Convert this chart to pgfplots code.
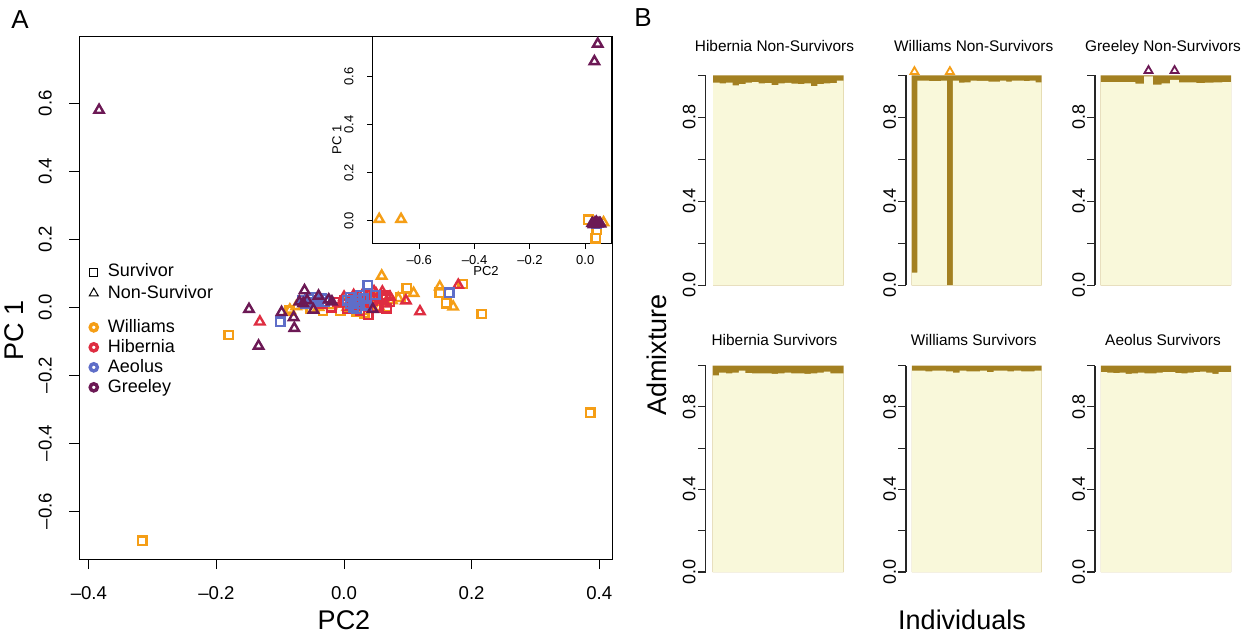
\documentclass[border=0pt]{standalone}
\usepackage{fontspec}
\setmainfont{Liberation Sans}
\usepackage{pgfplots}
\pgfplotsset{compat=1.18}

\definecolor{cOr}{RGB}{245,158,22}
\definecolor{cRe}{RGB}{222,45,65}
\definecolor{cBl}{RGB}{95,110,200}
\definecolor{cPu}{RGB}{108,25,85}
\definecolor{cGold}{RGB}{163,128,33}
\definecolor{cYel}{RGB}{249,248,218}

\newcommand{\fTick}{\fontsize{9.3}{11}\selectfont}
\newcommand{\fSmall}{\fontsize{6.5}{8}\selectfont}
\newcommand{\fBig}{\fontsize{13.5}{15}\selectfont}

\pgfplotsset{
  sq/.style={only marks, mark=square, mark size=2.1pt, mark options={draw=#1, line width=1.2pt, fill=none}},
  tri/.style={only marks, mark=triangle, mark size=2.7pt, mark options={draw=#1, line width=1.2pt, fill=none}},
  pcax/.style={anchor=south west, scale only axis, clip=false,
    axis line style={black, line width=0.5pt}, tick style={black, line width=0.5pt},
    tick align=outside, xtick pos=bottom, ytick pos=left},
  bax/.style={anchor=south west, scale only axis, clip=false,
    axis x line=none, axis y line*=left, ymin=0, ymax=1,
    ytick={0,0.2,0.4,0.6,0.8,1}, yticklabels={0.0,,0.4,,0.8,},
    tick align=outside, major tick length=3.8pt,
    axis line style={black!85, line width=0.6pt}, tick style={black!85, line width=0.6pt},
    yticklabel style={rotate=90, anchor=south, inner sep=1pt, font=\fontsize{9}{10}\selectfont},
    title style={at={(0.5,1)}, anchor=base, font=\fontsize{7.7}{9}\selectfont}},
  row1/.style={title style={yshift=5.8pt}},
  row2/.style={title style={yshift=4pt}},
  gbar/.style={ybar, bar width=1, bar shift=0pt, fill=cGold, draw=none},
  ybarc/.style={ybar, bar width=1, bar shift=0pt, fill=cYel, draw=none},
}

\begin{document}
\begin{tikzpicture}
\path[use as bounding box] (0,0) rectangle (623pt,318.5pt);

% ---------------- panel A: main PCA
\begin{axis}[pcax, at={(39.65pt,39pt)}, width=266.35pt, height=261pt,
  xmin=-0.415, xmax=0.42, ymin=-0.741, ymax=0.795,
  xtick={-0.4,-0.2,0,0.2,0.4}, xticklabels={--0.4,--0.2,0.0,0.2,0.4},
  ytick={-0.6,-0.4,-0.2,0,0.2,0.4,0.6}, yticklabels={--0.6,--0.4,--0.2,0.0,0.2,0.4,0.6},
  major tick length=5pt,
  xticklabel style={font=\fTick, anchor=north, inner sep=0pt, yshift=-8.5pt},
  yticklabel style={font=\fTick, rotate=90, anchor=south, inner xsep=0pt, inner ysep=8.5pt},
  legend style={draw=none, fill=none, at={(0.004,0.571)}, anchor=north west, inner sep=0pt,
    font=\fontsize{9}{10}\selectfont,
    nodes={inner xsep=1.5pt, inner ysep=0pt, text height=7.5pt, text depth=2.5pt}},
  legend cell align=left,
  legend image code/.code={\draw[mark repeat=2,mark phase=2,#1] plot coordinates {(0cm,0cm)(0.21cm,0cm)(0.42cm,0cm)};
    \path[draw=none, fill=none] (0.21cm,0cm) -- ++(5.6pt,0pt);},
]
\addlegendimage{only marks, mark=square, mark size=2pt, mark options={black, line width=0.5pt}}
\addlegendentry[text depth=3.5pt]{Survivor}
\addlegendimage{only marks, mark=triangle, mark size=2.6pt, mark options={black, line width=0.5pt}}
\addlegendentry{Non-Survivor}
\addlegendimage{empty legend}
\addlegendentry[text height=4.5pt, text depth=2.5pt]{}
\addlegendimage{only marks, mark=o, mark size=1.8pt, mark options={cOr, line width=1.7pt}}
\addlegendentry{Williams}
\addlegendimage{only marks, mark=o, mark size=1.8pt, mark options={cRe, line width=1.7pt}}
\addlegendentry{Hibernia}
\addlegendimage{only marks, mark=o, mark size=1.8pt, mark options={cBl, line width=1.7pt}}
\addlegendentry{Aeolus}
\addlegendimage{only marks, mark=o, mark size=1.8pt, mark options={cPu, line width=1.7pt}}
\addlegendentry{Greeley}

% Williams survivors
\addplot[sq=cOr] coordinates {(-0.316,-0.687) (0.386,-0.311) (-0.181,-0.082) (0.098,0.056) (0.150,0.043)
  (0.160,0.011) (0.186,0.068) (0.216,-0.020) (0.036,0.021) (0.041,0.006) (0.067,0.0) (-0.085,-0.01)
  (-0.033,-0.01) (-0.006,-0.01) (0.02,-0.012) (0.032,-0.018) (0.052,0.032) (0.088,0.03) (0.01,0.0) (-0.052,-0.003)};
% Williams non-survivors
\addplot[tri=cOr] coordinates {(0.059,0.092) (0.109,0.041) (0.085,0.026) (0.150,0.060) (0.171,0.001)
  (-0.085,-0.008) (0.005,0.0) (0.025,0.01) (-0.04,0.0) (0.03,-0.012) (0.048,0.015) (0.065,0.012)
  (-0.06,0.005) (0.015,0.02) (0.075,0.02) (-0.02,0.005) (0.04,0.03) (0.0,0.015) (0.055,0.0) (-0.075,0.002)};
% Hibernia survivors
\addplot[sq=cRe] coordinates {(0.038,-0.023) (0.067,-0.003) (0.01,0.01) (0.02,0.025) (0.03,0.005)
  (0.045,0.02) (0.06,0.03) (0.005,-0.005) (0.025,-0.01) (-0.01,0.015) (0.04,0.035) (0.072,0.015)
  (-0.02,0.0) (0.015,0.03) (0.05,0.0) (0.035,0.015) (-0.035,0.01) (0.065,0.035) (0.0,0.02)};
% Hibernia non-survivors
\addplot[tri=cRe] coordinates {(-0.132,-0.043) (0.047,0.046) (0.097,0.019) (0.119,-0.013) (0.179,0.065)
  (0.02,0.015) (0.035,0.03) (0.055,0.02) (0.01,0.0) (0.04,0.01) (0.065,0.01) (0.0,0.03) (0.025,0.0)
  (-0.005,0.01) (0.05,0.04) (0.072,0.03) (0.03,0.04) (0.015,0.035) (0.045,-0.005) (0.06,0.045)};
% Aeolus survivors
\addplot[sq=cBl] coordinates {(-0.100,-0.043) (0.037,0.065) (0.165,0.043) (0.049,0.036) (-0.065,0.02)
  (-0.055,0.025) (-0.045,0.015) (-0.035,0.025) (-0.05,0.03) (-0.06,0.01) (-0.04,0.02) (-0.03,0.015)
  (0.01,0.01) (0.02,0.02) (0.015,0.0) (0.025,0.01) (0.03,0.025) (0.005,0.02) (0.02,-0.005)
  (0.035,0.005) (0.01,0.03) (0.025,0.035)};
% Greeley non-survivors
\addplot[tri=cPu] coordinates {(-0.384,0.58) (-0.149,-0.006) (-0.134,-0.114) (-0.098,-0.015) (-0.079,-0.030)
  (-0.078,-0.062) (-0.062,0.049) (-0.040,0.033) (-0.048,-0.008) (-0.064,0.011) (-0.07,0.016)
  (-0.058,0.02) (-0.019,0.016) (-0.024,0.022) (0.045,-0.006)};
\end{axis}

% ---------------- panel A: inset
\begin{axis}[pcax, at={(186pt,196.5pt)}, width=119.5pt, height=104pt,
  xmin=-0.771, xmax=0.093, ymin=-0.096, ymax=0.769,
  axis background/.style={fill=white},
  xtick={-0.6,-0.4,-0.2,0}, xticklabels={--0.6,--0.4,--0.2,0.0},
  ytick={0,0.2,0.4,0.6}, yticklabels={0.0,0.2,0.4,0.6},
  major tick length=2.5pt,
  xticklabel style={font=\fSmall, anchor=north, inner sep=0pt, yshift=-3pt},
  yticklabel style={font=\fSmall, rotate=90, anchor=south, inner xsep=0pt, inner ysep=6.5pt},
]
\addplot[sq=cOr] coordinates {(0.011,0.005) (0.042,-0.037) (0.038,-0.072)};
\addplot[tri=cOr] coordinates {(-0.745,0.007) (-0.666,0.007) (0.066,-0.007)};
\addplot[sq=cBl] coordinates {(0.04,-0.012)};
\addplot[tri=cPu] coordinates {(0.045,0.736) (0.033,0.663) (0.025,-0.01) (0.035,-0.008) (0.045,-0.012)
  (0.03,-0.015) (0.04,-0.005) (0.05,-0.01) (0.055,-0.012)};
\end{axis}

\node[font=\fBig] at (172pt,8.5pt) {PC2};
\node[font=\fBig, rotate=90] at (7pt,153.5pt) {PC 1};
\node[font=\fSmall] at (243pt,183pt) {PC2};
\node[font=\fSmall, rotate=90] at (168.5pt,248.5pt) {PC 1};
\node[font=\fontsize{13}{15}\selectfont] at (10pt,308.5pt) {A};
\node[font=\fontsize{13}{15}\selectfont] at (321.5pt,309.5pt) {B};
\node[font=\fBig, rotate=90] at (328.5pt,141pt) {Admixture};
\node[font=\fBig] at (481pt,8.5pt) {Individuals};

% ---------------- panel B: admixture bars
\begin{axis}[bax, row1, at={(352.75pt,175.85pt)}, width=69pt, height=105pt, xmin=-0.65, xmax=20.5,
  title={Hibernia Non-Survivors}]
\addplot[gbar] coordinates {(1,1)(2,1)(3,1)(4,1)(5,1)(6,1)(7,1)(8,1)(9,1)(10,1)(11,1)(12,1)(13,1)(14,1)(15,1)(16,1)(17,1)(18,1)(19,1)(20,1)};
\addplot[ybarc] coordinates {(1,0.965)(2,0.962)(3,0.965)(4,0.952)(5,0.958)(6,0.965)(7,0.968)(8,0.962)(9,0.963)(10,0.953)
  (11,0.962)(12,0.964)(13,0.960)(14,0.958)(15,0.962)(16,0.948)(17,0.958)(18,0.962)(19,0.963)(20,0.975)};
\end{axis}

\begin{axis}[bax, row1, at={(453pt,175.85pt)}, width=67.75pt, height=105pt, xmin=-0.43, xmax=22.5,
  title={Williams Non-Survivors}]
\addplot[gbar] coordinates {(1,1)(2,1)(3,1)(4,1)(5,1)(6,1)(7,1)(8,1)(9,1)(10,1)(11,1)(12,1)(13,1)(14,1)(15,1)(16,1)(17,1)(18,1)(19,1)(20,1)(21,1)(22,1)};
\addplot[ybarc] coordinates {(1,0.06)(2,0.975)(3,0.975)(4,0.972)(5,0.972)(6,0.975)(7,0.0)(8,0.975)(9,0.965)(10,0.966)
  (11,0.975)(12,0.973)(13,0.973)(14,0.970)(15,0.970)(16,0.975)(17,0.970)(18,0.975)(19,0.975)(20,0.972)(21,0.975)(22,0.966)};
\addplot[only marks, mark=triangle, mark size=2.3pt, mark options={draw=cOr, line width=0.9pt}] coordinates {(1,1.017)(7,1.017)};
\end{axis}

\begin{axis}[bax, row1, at={(547.5pt,175.85pt)}, width=68pt, height=105pt, xmin=-0.16, xmax=15.5,
  title={Greeley Non-Survivors}]
\addplot[gbar] coordinates {(1,1)(2,1)(3,1)(4,1)(5,1)(6,1)(7,1)(8,1)(9,1)(10,1)(11,1)(12,1)(13,1)(14,1)(15,1)};
\addplot[ybarc] coordinates {(1,0.968)(2,0.968)(3,0.967)(4,0.968)(5,0.960)(6,0.995)(7,0.955)(8,0.962)(9,0.978)(10,0.966)
  (11,0.966)(12,0.963)(13,0.965)(14,0.966)(15,0.967)};
\addplot[only marks, mark=triangle, mark size=2.3pt, mark options={draw=cPu, line width=0.9pt}] coordinates {(6,1.022)(9,1.022)};
\end{axis}

\begin{axis}[bax, row2, at={(352.75pt,32.5pt)}, width=69pt, height=103.25pt, xmin=-0.6, xmax=20.5,
  title={Hibernia Survivors}]
\addplot[gbar] coordinates {(1,1)(2,1)(3,1)(4,1)(5,1)(6,1)(7,1)(8,1)(9,1)(10,1)(11,1)(12,1)(13,1)(14,1)(15,1)(16,1)(17,1)(18,1)(19,1)(20,1)};
\addplot[ybarc] coordinates {(1,0.952)(2,0.966)(3,0.962)(4,0.966)(5,0.975)(6,0.963)(7,0.962)(8,0.962)(9,0.962)(10,0.960)
  (11,0.962)(12,0.965)(13,0.962)(14,0.962)(15,0.960)(16,0.962)(17,0.966)(18,0.970)(19,0.962)(20,0.962)};
\end{axis}

\begin{axis}[bax, row2, at={(453pt,32.5pt)}, width=67.75pt, height=103.25pt, xmin=-0.35, xmax=19.5,
  title={Williams Survivors}]
\addplot[gbar] coordinates {(1,1)(2,1)(3,1)(4,1)(5,1)(6,1)(7,1)(8,1)(9,1)(10,1)(11,1)(12,1)(13,1)(14,1)(15,1)(16,1)(17,1)(18,1)(19,1)};
\addplot[ybarc] coordinates {(1,0.975)(2,0.975)(3,0.972)(4,0.975)(5,0.975)(6,0.972)(7,0.966)(8,0.975)(9,0.972)(10,0.972)
  (11,0.975)(12,0.968)(13,0.975)(14,0.975)(15,0.972)(16,0.975)(17,0.972)(18,0.972)(19,0.975)};
\end{axis}

\begin{axis}[bax, row2, at={(547.5pt,32.5pt)}, width=68pt, height=103.25pt, xmin=-0.46, xmax=21.5,
  title={Aeolus Survivors}]
\addplot[gbar] coordinates {(1,1)(2,1)(3,1)(4,1)(5,1)(6,1)(7,1)(8,1)(9,1)(10,1)(11,1)(12,1)(13,1)(14,1)(15,1)(16,1)(17,1)(18,1)(19,1)(20,1)(21,1)};
\addplot[ybarc] coordinates {(1,0.968)(2,0.965)(3,0.963)(4,0.965)(5,0.960)(6,0.962)(7,0.965)(8,0.962)(9,0.962)(10,0.965)
  (11,0.968)(12,0.968)(13,0.963)(14,0.962)(15,0.965)(16,0.968)(17,0.970)(18,0.965)(19,0.960)(20,0.968)(21,0.968)};
\end{axis}
\end{tikzpicture}
\end{document}
